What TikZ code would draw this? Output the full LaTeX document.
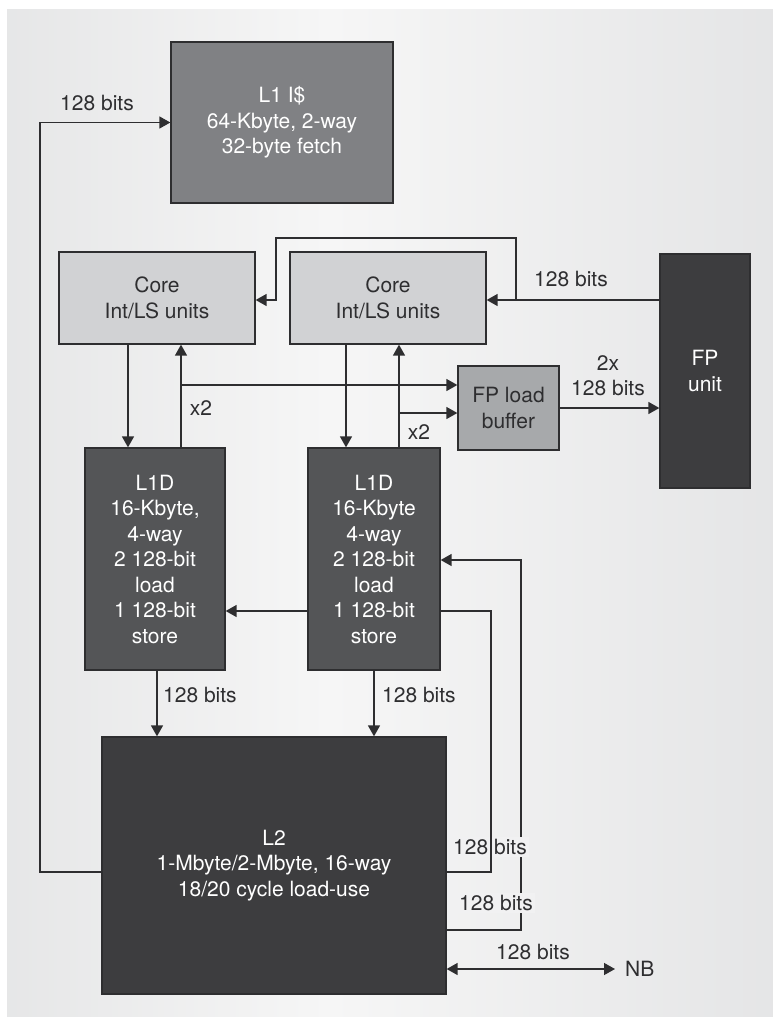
\documentclass[tikz,border=0pt]{standalone}
\usepackage{fontspec}
\setmainfont{TeX Gyre Heros}
\usetikzlibrary{arrows.meta}
\definecolor{bgL}{HTML}{D3D4D6}
\definecolor{bgM}{HTML}{F6F6F6}
\definecolor{bgR}{HTML}{D6D7D9}
\definecolor{ink}{HTML}{2E2E30}
\definecolor{cLI}{HTML}{808184}
\definecolor{cCore}{HTML}{D1D2D4}
\definecolor{cFPLB}{HTML}{A7A9AB}
\definecolor{cLD}{HTML}{545557}
\definecolor{cDark}{HTML}{3D3D3F}
\definecolor{labbg}{HTML}{F1F1F2}
\pgfdeclarehorizontalshading{panelshade}{100bp}{color(0bp)=(bgL); color(46bp)=(bgM); color(100bp)=(bgR)}
\begin{document}
\begin{tikzpicture}[x=1pt,y=-1pt,
  font=\fontsize{21}{25.5}\selectfont,
  blk/.style={draw=ink, line width=1.3pt, inner sep=0pt, align=center, text=white},
  lblk/.style={blk, text=ink},
  lbl/.style={text=ink, inner sep=0pt, align=center},
  conn/.style={draw=ink, line width=1.4pt},
  arr/.style={conn, -{Triangle[length=11pt,width=12pt]}},
  dbl/.style={conn, {Triangle[length=11pt,width=12pt]}-{Triangle[length=11pt,width=12pt]}}]
\useasboundingbox (0,0) rectangle (773,1018);
\shade[shading=panelshade] (7,9) rectangle (773,1016);

% blocks
\node[blk, fill=cLI, minimum width=222pt, minimum height=161pt] (l1i) at (282,122.5) {L1 I\$\\64-Kbyte, 2-way\\32-byte fetch};
\node[lblk, fill=cCore, minimum width=196pt, minimum height=92pt] (coreL) at (157,298) {Core\\Int/LS units};
\node[lblk, fill=cCore, minimum width=196pt, minimum height=92pt] (coreR) at (388,298) {Core\\Int/LS units};
\node[blk, fill=cDark, minimum width=90pt, minimum height=234pt] (fpu) at (705,371) {FP\\unit};
\node[lblk, fill=cFPLB, minimum width=101pt, minimum height=84pt] (fplb) at (508.5,408) {FP load\\buffer};
\node[blk, fill=cLD, minimum width=140pt, minimum height=222pt] (l1dL) at (155,559) {L1D\\16-Kbyte,\\4-way\\2 128-bit\\load\\1 128-bit\\store};
\node[blk, fill=cLD, minimum width=132pt, minimum height=222pt] (l1dR) at (374,559) {L1D\\16-Kbyte\\4-way\\2 128-bit\\load\\1 128-bit\\store};
\node[blk, fill=cDark, minimum width=344pt, minimum height=257pt] (l2) at (274,865.5) {L2\\1-Mbyte/2-Mbyte, 16-way\\18/20 cycle load-use};
\node[lbl, anchor=west] (nb) at (625,969) {NB};

% reference coordinates
\coordinate (xA) at (128,0);
\coordinate (xB) at (181,0);
\coordinate (xC) at (346,0);
\coordinate (xD) at (399,0);
\coordinate (xE) at (157,0);
\coordinate (xF) at (374,0);
\coordinate (xG) at (276,0);
\coordinate (xH) at (516,0);
\coordinate (xI) at (491,0);
\coordinate (xJ) at (521,0);
\coordinate (xK) at (40,0);
\coordinate (yA) at (0,385);
\coordinate (yB) at (0,413);
\coordinate (yC) at (0,300);
\coordinate (yD) at (0,238);
\coordinate (yE) at (0,611);
\coordinate (yF) at (0,560);
\coordinate (yG) at (0,872);
\coordinate (yH) at (0,930);

% connectors
\draw[arr] (coreL.south -| xA) -- (l1dL.north -| xA);
\draw[arr] (l1dL.north -| xB) -- (coreL.south -| xB);
\draw[arr] (xB |- yA) -- (fplb.west |- yA);
\draw[arr] (coreR.south -| xC) -- (l1dR.north -| xC);
\draw[arr] (l1dR.north -| xD) -- (coreR.south -| xD);
\draw[arr] (xD |- yB) -- (fplb.west |- yB);
\draw[arr] (fplb.east) -- (fplb.east -| fpu.west);
\draw[arr] (fpu.west |- yC) -- (coreR.east |- yC);
\draw[arr] (xH |- yC) -- (xH |- yD) -- (xG |- yD) -- (xG |- yC) -- (coreL.east |- yC);
\draw[arr] (l1dR.west |- yE) -- (l1dL.east |- yE);
\draw[arr] (l1dL.south -| xE) -- (l2.north -| xE);
\draw[arr] (l1dR.south -| xF) -- (l2.north -| xF);
\draw[arr] (l2.west |- yG) -- (xK |- yG) -- (xK |- l1i.west) -- (l1i.west);
\draw[arr] (l2.east |- yH) -- (xJ |- yH) -- (xJ |- yF) -- (l1dR.east |- yF);
\draw[dbl] (l2.east |- nb.west) -- ([xshift=-10pt]nb.west);

% labels
\node[lbl] (lb1) at (97,103) {128 bits};
\node[lbl] (lb2) at (571,279) {128 bits};
\node[lbl] (lb3) at (608,375.5) {2x\\128 bits};
\node[lbl] (lb4) at (201,408) {x2};
\node[lbl] (lb5) at (419,432) {x2};
\node[lbl, anchor=west] (lb6) at (163,695) {128 bits};
\node[lbl, anchor=west] (lb7) at (382,695) {128 bits};
\node[lbl, fill=labbg, inner sep=2pt] (lb8) at (490,847) {128 bits};
\node[lbl, fill=labbg, inner sep=2pt] (lb9) at (496,903) {128 bits};
\node[lbl] (lb10) at (533,952) {128 bits};

% writeback path drawn over label
\draw[conn] (l1dR.east |- yE) -- (xI |- yE) -- (xI |- yG) -- (l2.east |- yG);
\end{tikzpicture}
\end{document}
